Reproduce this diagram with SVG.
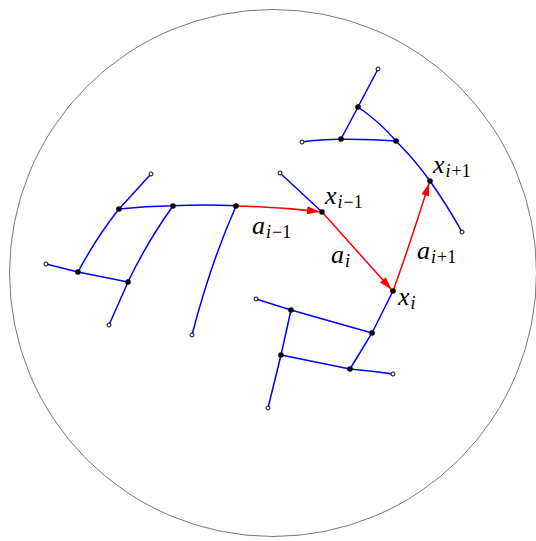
<svg xmlns="http://www.w3.org/2000/svg" width="536" height="541" viewBox="0 0 536 541">
<defs>
<style>
.b{fill:none;stroke:#0000ff;stroke-width:1.5}
.r{fill:none;stroke:#ff0000;stroke-width:1.5;marker-end:url(#ah)}
.f{fill:#000}
.o{fill:#fff;stroke:#000;stroke-width:1}
.t{font-family:"Liberation Serif","Times New Roman",serif;font-style:italic;font-size:26px;fill:#000}
.s{font-size:18px}
.n{font-style:normal}
</style>
<marker id="ah" viewBox="0 0 13 8" refX="13" refY="4" markerWidth="13" markerHeight="8" markerUnits="userSpaceOnUse" orient="auto">
<path d="M0,0 L13,4 L0,8 Z" fill="#ff0000"/>
</marker>
</defs>
<rect width="536" height="541" fill="#fff"/>
<circle cx="273" cy="273" r="263.5" fill="none" stroke="#777" stroke-width="1"/>
<g id="connectors">
<path class="b" d="M151,174 L119,209"/>
<path class="b" d="M119,209 Q145,206 173,205.7 Q205,204.5 236,205.7"/>
<path class="b" d="M119,209 Q96,238 78,272"/>
<path class="b" d="M46,264 L78,272 L128,282"/>
<path class="b" d="M173,206 Q147,242 128,282 L109,325"/>
<path class="b" d="M236,206 Q210,265 192,335"/>
<path class="b" d="M280,173 L322,212"/>
<path class="b" d="M378,69 L358,107 L341,139"/>
<path class="b" d="M358,107 Q380,122 396,141 Q415,160 430,181 Q447,205 462,232"/>
<path class="b" d="M302,142 Q320,139.5 341,139.3 Q370,139 396,141"/>
<path class="b" d="M256,299 L291,310 L372,333"/>
<path class="b" d="M393,291 L372,333 L350,369"/>
<path class="b" d="M291,310 L281,355 L268,408"/>
<path class="b" d="M281,355 L350,369 Q372,371 393,374"/>
<path class="r" d="M236,206 Q280,207 320,211.8"/>
<path class="r" d="M322,212 L391.5,289.5"/>
<path class="r" d="M393,291 Q408,250 429.2,183"/>
</g>
<g id="nodes">
<g id="n1"><circle class="o" cx="151" cy="174" r="2"/></g>
<g id="n2"><circle class="f" cx="119" cy="209" r="2.8"/></g>
<g id="n3"><circle class="f" cx="173" cy="206" r="2.8"/></g>
<g id="n4"><circle class="f" cx="236" cy="206" r="2.8"/></g>
<g id="n5"><circle class="o" cx="46" cy="264" r="2"/></g>
<g id="n6"><circle class="f" cx="78" cy="272" r="2.8"/></g>
<g id="n7"><circle class="f" cx="128" cy="282" r="2.8"/></g>
<g id="n8"><circle class="o" cx="109" cy="325" r="2"/></g>
<g id="n9"><circle class="o" cx="192" cy="335" r="2"/></g>
<g id="n10"><circle class="o" cx="280" cy="173" r="2"/></g>
<g id="x_im1"><circle class="f" cx="322" cy="212" r="2.8"/></g>
<g id="x_i"><circle class="f" cx="393" cy="291" r="2.8"/></g>
<g id="x_ip1"><circle class="f" cx="430" cy="181" r="2.8"/></g>
<g id="n11"><circle class="o" cx="462" cy="232" r="2"/></g>
<g id="n12"><circle class="o" cx="378" cy="69" r="2"/></g>
<g id="n13"><circle class="f" cx="358" cy="107" r="2.8"/></g>
<g id="n14"><circle class="f" cx="341" cy="139" r="2.8"/></g>
<g id="n15"><circle class="f" cx="396" cy="141" r="2.8"/></g>
<g id="n16"><circle class="o" cx="302" cy="142" r="2"/></g>
<g id="n17"><circle class="o" cx="256" cy="299" r="2"/></g>
<g id="n18"><circle class="f" cx="291" cy="310" r="2.8"/></g>
<g id="n19"><circle class="f" cx="372" cy="333" r="2.8"/></g>
<g id="n20"><circle class="f" cx="281" cy="355" r="2.8"/></g>
<g id="n21"><circle class="f" cx="350" cy="369" r="2.8"/></g>
<g id="n22"><circle class="o" cx="393" cy="374" r="2"/></g>
<g id="n23"><circle class="o" cx="268" cy="408" r="2"/></g>
</g>
<g id="labels">
<text class="t" x="325" y="204">x<tspan class="s" dy="4" dx="1">i</tspan><tspan class="s n" dx="1">−1</tspan></text>
<text class="t" x="252" y="234">a<tspan class="s" dy="4" dx="1">i</tspan><tspan class="s n" dx="1">−1</tspan></text>
<text class="t" x="331" y="263">a<tspan class="s" dy="4" dx="1">i</tspan></text>
<text class="t" x="398" y="305">x<tspan class="s" dy="4" dx="1">i</tspan></text>
<text class="t" x="433" y="173">x<tspan class="s" dy="4" dx="1">i</tspan><tspan class="s n" dx="1">+1</tspan></text>
<text class="t" x="417" y="259">a<tspan class="s" dy="4" dx="1">i</tspan><tspan class="s n" dx="1">+1</tspan></text>
</g>
</svg>
